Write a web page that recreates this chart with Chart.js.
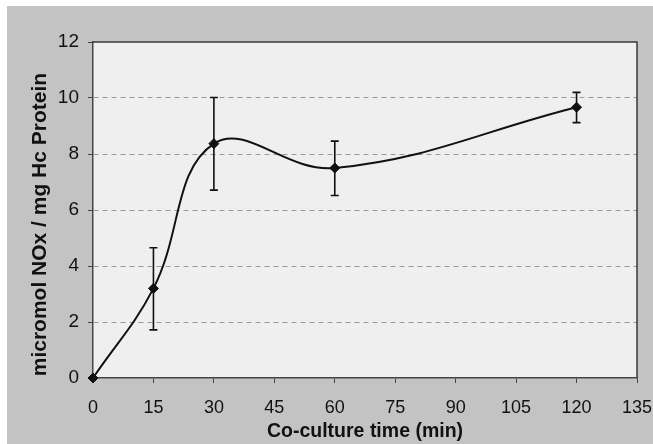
<!DOCTYPE html>
<html>
<head>
<meta charset="utf-8">
<script src="https://cdn.jsdelivr.net/npm/chart.js@4.4.1/dist/chart.umd.min.js"></script>
<style>
  html, body { margin: 0; padding: 0; background: #ffffff; }
  #wrap { width: 653px; height: 444px; }
</style>
</head>
<body>
<div id="wrap"><canvas id="myChart" width="653" height="444"></canvas></div>
<script>
// Data
const times = [0, 15, 30, 60, 120];
const nox = [0, 3.2, 8.37, 7.5, 9.67];
const errLow = [0, 1.72, 6.71, 6.52, 9.12];
const errHigh = [0, 4.65, 10.02, 8.46, 10.2];
const xTicks = [0, 15, 30, 45, 60, 75, 90, 105, 120, 135];
const yTicks = [0, 2, 4, 6, 8, 10, 12];

const INK = '#111111';
const FONT = "'Liberation Sans', Arial, Helvetica, sans-serif";

// grey scanned page + light plot area
const backdrop = {
    id: 'backdrop',
    beforeDraw(chart) {
        const {ctx, chartArea: a} = chart;
        ctx.save();
        ctx.fillStyle = '#ffffff';
        ctx.fillRect(0, 0, chart.width, chart.height);
        ctx.fillStyle = '#c3c3c3';
        ctx.fillRect(7, 6, chart.width - 7, chart.height - 6);
        ctx.fillStyle = '#efefef';
        ctx.fillRect(a.left, a.top, a.right - a.left, a.bottom - a.top);
        ctx.restore();
    },
    afterDraw(chart) {
        const {ctx, chartArea: a} = chart;
        ctx.save();
        ctx.strokeStyle = '#3a3a3a';
        ctx.lineWidth = 1.5;
        ctx.beginPath();
        ctx.moveTo(a.left, a.top);
        ctx.lineTo(a.right, a.top);
        ctx.lineTo(a.right, a.bottom);
        ctx.stroke();
        ctx.restore();
    }
};

// vertical error bars with caps
const errorBars = {
    id: 'errorBars',
    afterDatasetsDraw(chart) {
        const {ctx, scales: {x, y}} = chart;
        ctx.save();
        ctx.strokeStyle = INK;
        ctx.lineWidth = 1.6;
        times.forEach((t, i) => {
            if (errHigh[i] === errLow[i]) return;
            const px = x.getPixelForValue(t);
            const lo = y.getPixelForValue(errLow[i]);
            const hi = y.getPixelForValue(errHigh[i]);
            ctx.beginPath();
            ctx.moveTo(px, lo); ctx.lineTo(px, hi);
            ctx.moveTo(px - 4, lo); ctx.lineTo(px + 4, lo);
            ctx.moveTo(px - 4, hi); ctx.lineTo(px + 4, hi);
            ctx.stroke();
        });
        ctx.restore();
    }
};

const ctx = document.getElementById('myChart');
new Chart(ctx, {
    type: 'line',
    data: {
        datasets: [{
            data: times.map((t, i) => ({x: t, y: nox[i]})),
            borderColor: INK,
            borderWidth: 2,
            tension: 0.4,
            pointStyle: 'rectRot',
            pointRadius: 5,
            pointBackgroundColor: INK,
            pointBorderColor: INK,
            pointBorderWidth: 1,
            clip: false
        }]
    },
    options: {
        responsive: false,
        animation: false,
        layout: { padding: { left: 0, right: 16, top: 42, bottom: 0 } },
        plugins: { legend: { display: false }, tooltip: { enabled: false } },
        scales: {
            x: {
                type: 'linear',
                min: 0,
                max: 135,
                afterBuildTicks: s => { s.ticks = xTicks.map(v => ({value: v})); },
                afterFit: s => { s.height = 66; s.paddingRight = 16; },
                grid: { drawOnChartArea: false, tickLength: 5, tickColor: '#444', tickWidth: 1 },
                border: { color: '#444', width: 1.5 },
                ticks: { color: INK, font: { family: FONT, size: 18 }, padding: 14, maxRotation: 0 },
                title: {
                    display: true,
                    text: 'Co-culture time (min)',
                    color: INK,
                    font: { family: FONT, size: 19.5, weight: 'bold' },
                    padding: { top: 0, bottom: 1 }
                }
            },
            y: {
                min: 0,
                max: 12,
                afterBuildTicks: s => { s.ticks = yTicks.map(v => ({value: v})); },
                afterFit: s => { s.width = 93; },
                grid: {
                    color: c => (c.tick && (c.tick.value === 0 || c.tick.value === 12)) ? 'rgba(0,0,0,0)' : '#9a9a9a',
                    lineWidth: 1,
                    tickLength: 5,
                    tickColor: '#444',
                    tickBorderDash: []
                },
                border: { color: '#444', width: 1.5, dash: [5, 4] },
                ticks: { color: INK, font: { family: FONT, size: 19 }, padding: 9 },
                title: {
                    display: true,
                    text: 'micromol NOx / mg Hc Protein     ',
                    color: INK,
                    font: { family: FONT, size: 21, weight: 'bold' },
                    padding: { top: 28, bottom: 0 }
                }
            }
        }
    },
    plugins: [backdrop, errorBars]
});
</script>
</body>
</html>
